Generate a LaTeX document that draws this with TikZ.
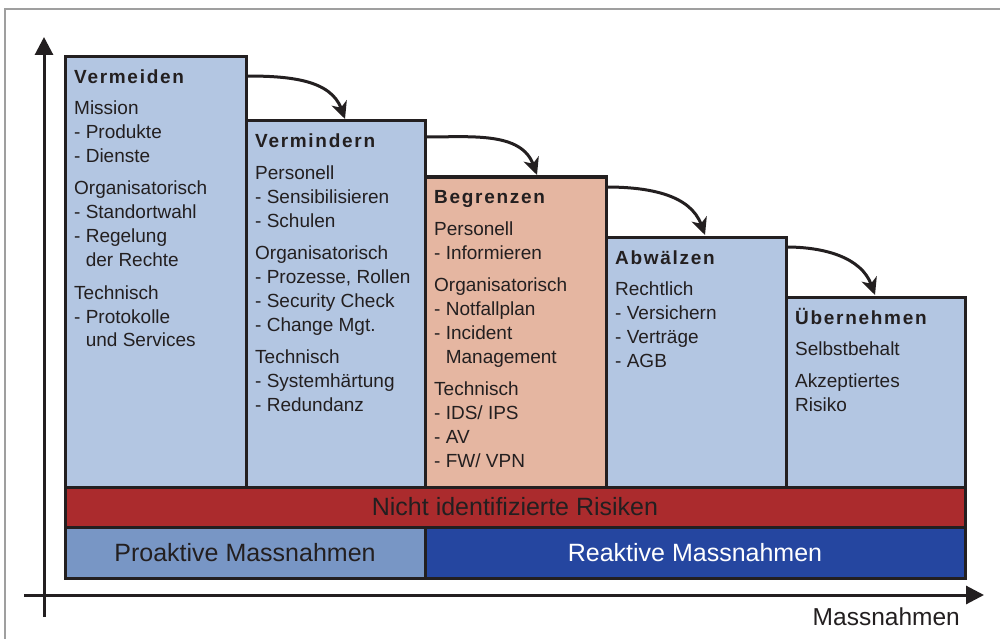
\documentclass[tikz,border=0pt]{standalone}
\usepackage{fontspec}
\setmainfont{Liberation Sans}
\newfontfamily\titlefont[LetterSpace=9]{Liberation Sans}
\usetikzlibrary{arrows.meta,calc}
\definecolor{lc}{HTML}{231F20}
\definecolor{lblue}{HTML}{B3C6E2}
\definecolor{salmon}{HTML}{E5B6A1}
\definecolor{rbar}{HTML}{AB2B2D}
\definecolor{pbar}{HTML}{7896C5}
\definecolor{rebar}{HTML}{2546A0}
\newcommand\gp{\vskip8pt}
\newcommand\ind{\phantom{- }}
\newcommand\lines[1]{\vtop{\baselineskip=24pt\lineskiplimit=0pt #1}}
\begin{document}
\begin{tikzpicture}[x=1pt,y=-1pt,
  box/.style={draw=lc, line width=3pt, anchor=north west, inner sep=0pt, outer sep=0pt},
  stair/.style={box, fill=lblue},
  title/.style={anchor=base west, inner sep=0pt, text=lc, font=\titlefont\bfseries\fontsize{19}{22}\selectfont},
  body/.style={anchor=base west, inner sep=0pt, text=lc, font=\fontsize{19}{24}\selectfont},
  bartext/.style={inner sep=0pt, font=\fontsize{25}{28}\selectfont},
  flow/.style={line width=3pt, draw=lc, -{Stealth[length=17pt,width=16pt,inset=5pt]}},
  axis/.style={line width=3pt, draw=lc, -{Triangle[length=18pt,width=18pt]}},
  frame/.style={line width=1.3pt, draw=gray!75}
]
\useasboundingbox (0,0) rectangle (1000,639);
% frame
\draw[frame] (5,639) -- (5,9) -- (1000,9);

% axes
\coordinate (yb) at (44,617);
\coordinate (yt) at (44,37);
\coordinate (xl) at (24,595);
\coordinate (xr) at (984,595);
\draw[axis] (yb) -- (yt);
\draw[axis] (xl) -- (xr);
\node[anchor=base east, inner sep=0pt, text=lc, font=\fontsize{24.5}{28}\selectfont] (xlab) at (960,625) {Massnahmen};

% stair boxes
\node[stair, minimum width=181pt, minimum height=430pt] (b1) at (65,57) {};
\node[stair, minimum width=179pt, minimum height=366pt] (b2) at (246,121) {};
\node[box, fill=salmon, minimum width=181pt, minimum height=310pt] (b3) at (425,177) {};
\node[stair, minimum width=180pt, minimum height=250pt] (b4) at (606,237) {};
\node[stair, minimum width=179pt, minimum height=190pt] (b5) at (786,297) {};

% bars
\node[box, fill=rbar, minimum width=900pt, minimum height=40pt] (red) at (65,487) {};
\node[box, fill=pbar, minimum width=360pt, minimum height=51pt] (pro) at (65,527) {};
\node[box, fill=rebar, minimum width=540pt, minimum height=51pt] (rea) at (425,527) {};
\node[bartext, text=lc] (redt) at (red.center) {Nicht identifizierte Risiken};
\node[bartext, text=lc] (prot) at (pro.center) {Proaktive Massnahmen};
\node[bartext, text=white] (reat) at (rea.center) {Reaktive Massnahmen};

% titles
\node[title] (t1) at ([shift={(9,27)}]b1.north west) {Vermeiden};
\node[title] (t2) at ([shift={(9,27)}]b2.north west) {Vermindern};
\node[title] (t3) at ([shift={(9,27)}]b3.north west) {Begrenzen};
\node[title] (t4) at ([shift={(9,27)}]b4.north west) {Abwälzen};
\node[title] (t5) at ([shift={(9,27)}]b5.north west) {Übernehmen};

% bodies
\node[body] (c1) at ([shift={(9,58)}]b1.north west) {\lines{%
  \hbox{Mission}\hbox{- Produkte}\hbox{- Dienste}\gp
  \hbox{Organisatorisch}\hbox{- Standortwahl}\hbox{- Regelung}\hbox{\ind der Rechte}\gp
  \hbox{Technisch}\hbox{- Protokolle}\hbox{\ind und Services}}};
\node[body] (c2) at ([shift={(9,58)}]b2.north west) {\lines{%
  \hbox{Personell}\hbox{- Sensibilisieren}\hbox{- Schulen}\gp
  \hbox{Organisatorisch}\hbox{- Prozesse, Rollen}\hbox{- Security Check}\hbox{- Change Mgt.}\gp
  \hbox{Technisch}\hbox{- Systemhärtung}\hbox{- Redundanz}}};
\node[body] (c3) at ([shift={(9,58)}]b3.north west) {\lines{%
  \hbox{Personell}\hbox{- Informieren}\gp
  \hbox{Organisatorisch}\hbox{- Notfallplan}\hbox{- Incident}\hbox{\ind Management}\gp
  \hbox{Technisch}\hbox{- IDS/ IPS}\hbox{- AV}\hbox{- FW/ VPN}}};
\node[body] (c4) at ([shift={(9,58)}]b4.north west) {\lines{%
  \hbox{Rechtlich}\hbox{- Versichern}\hbox{- Verträge}\hbox{- AGB}}};
\node[body] (c5) at ([shift={(9,58)}]b5.north west) {\lines{%
  \hbox{Selbstbehalt}\gp\hbox{Akzeptiertes}\hbox{Risiko}}};

% flow arrows
\draw[flow] ([yshift=-19pt]b1.north east) to[out=0,in=110] ([xshift=99pt,yshift=2pt]b2.north west);
\draw[flow] ([yshift=-16pt]b2.north east) to[out=0,in=110] ([xshift=112pt,yshift=2pt]b3.north west);
\draw[flow] ([yshift=-10pt]b3.north east) to[out=0,in=110] ([xshift=99pt,yshift=2pt]b4.north west);
\draw[flow] ([yshift=-10pt]b4.north east) to[out=0,in=110] ([xshift=89pt,yshift=2pt]b5.north west);
\end{tikzpicture}
\end{document}
